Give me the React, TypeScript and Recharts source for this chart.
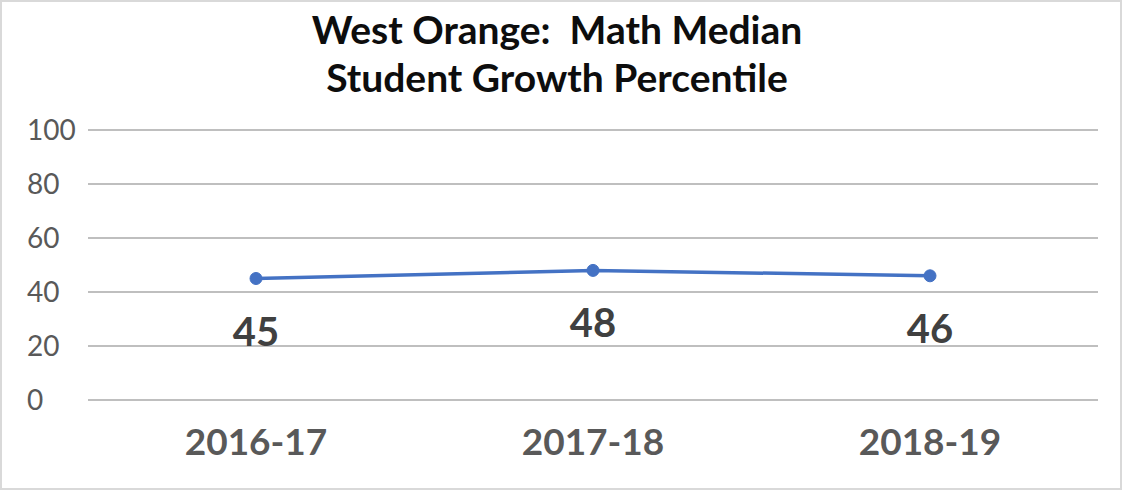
import React from "react";
import { LineChart, Line, XAxis, YAxis, CartesianGrid, LabelList } from "recharts";

const categories = ["2016-17", "2017-18", "2018-19"];
const values = [45, 48, 46];
const yTicks = [0, 20, 40, 60, 80, 100];
const titleLines = ["West Orange:  Math Median", "Student Growth Percentile"];

const data = categories.map((c, i) => ({ year: c, sgp: values[i] }));

const FONT = "Lato, 'Open Sans', sans-serif";

const YTick = (props: any) => {
  const { y, payload } = props;
  return (
    <text x={27} y={y} dy={10} textAnchor="start" fontFamily={FONT} fontSize={28} fill="#595959">
      {payload.value}
    </text>
  );
};

const XTick = (props: any) => {
  const { x, payload } = props;
  return (
    <text x={x} y={442} dy={13} textAnchor="middle" fontFamily={FONT} fontWeight={700} fontSize={37} fill="#595959">
      {payload.value}
    </text>
  );
};

const ValueLabel = (props: any) => {
  const { x, y, value } = props;
  return (
    <text x={x} y={y + 53} dy={14} textAnchor="middle" fontFamily={FONT} fontWeight={700} fontSize={40} fill="#404040">
      {value}
    </text>
  );
};

export default function App() {
  return (
    <div style={{ position: "relative", width: 1122, height: 490, background: "#fff" }}>
      <style>{`body{margin:0}`}</style>
      <div
        style={{
          position: "absolute",
          inset: 0,
          border: "2px solid #d9d9d9",
          boxSizing: "border-box",
          pointerEvents: "none",
          zIndex: 2,
        }}
      />
      <div
        style={{
          position: "absolute",
          top: 5,
          left: 0,
          width: 1114,
          textAlign: "center",
          fontFamily: FONT,
          fontWeight: 700,
          fontSize: 39,
          lineHeight: "48px",
          color: "#0d0d0d",
          zIndex: 1,
        }}
      >
        {titleLines.map((t, i) => (
          <div key={i} style={{ whiteSpace: "pre" }}>{t}</div>
        ))}
      </div>
      <LineChart width={1122} height={490} data={data} margin={{ top: 130, right: 24, bottom: 0, left: 0 }}>
        <CartesianGrid vertical={false} stroke="#bfbfbf" strokeWidth={2} />
        <XAxis
          dataKey="year"
          axisLine={false}
          tickLine={false}
          tick={<XTick />}
          height={90}
          padding={{ left: 168, right: 168 }}
        />
        <YAxis
          domain={[0, 100]}
          ticks={yTicks}
          axisLine={false}
          tickLine={false}
          tick={<YTick />}
          width={88}
          interval={0}
        />
        <Line
          type="linear"
          dataKey="sgp"
          stroke="#4472C4"
          strokeWidth={3.5}
          dot={{ r: 6, fill: "#4472C4", stroke: "#4472C4", strokeWidth: 1 }}
          isAnimationActive={false}
        >
          <LabelList dataKey="sgp" content={<ValueLabel />} />
        </Line>
      </LineChart>
    </div>
  );
}
